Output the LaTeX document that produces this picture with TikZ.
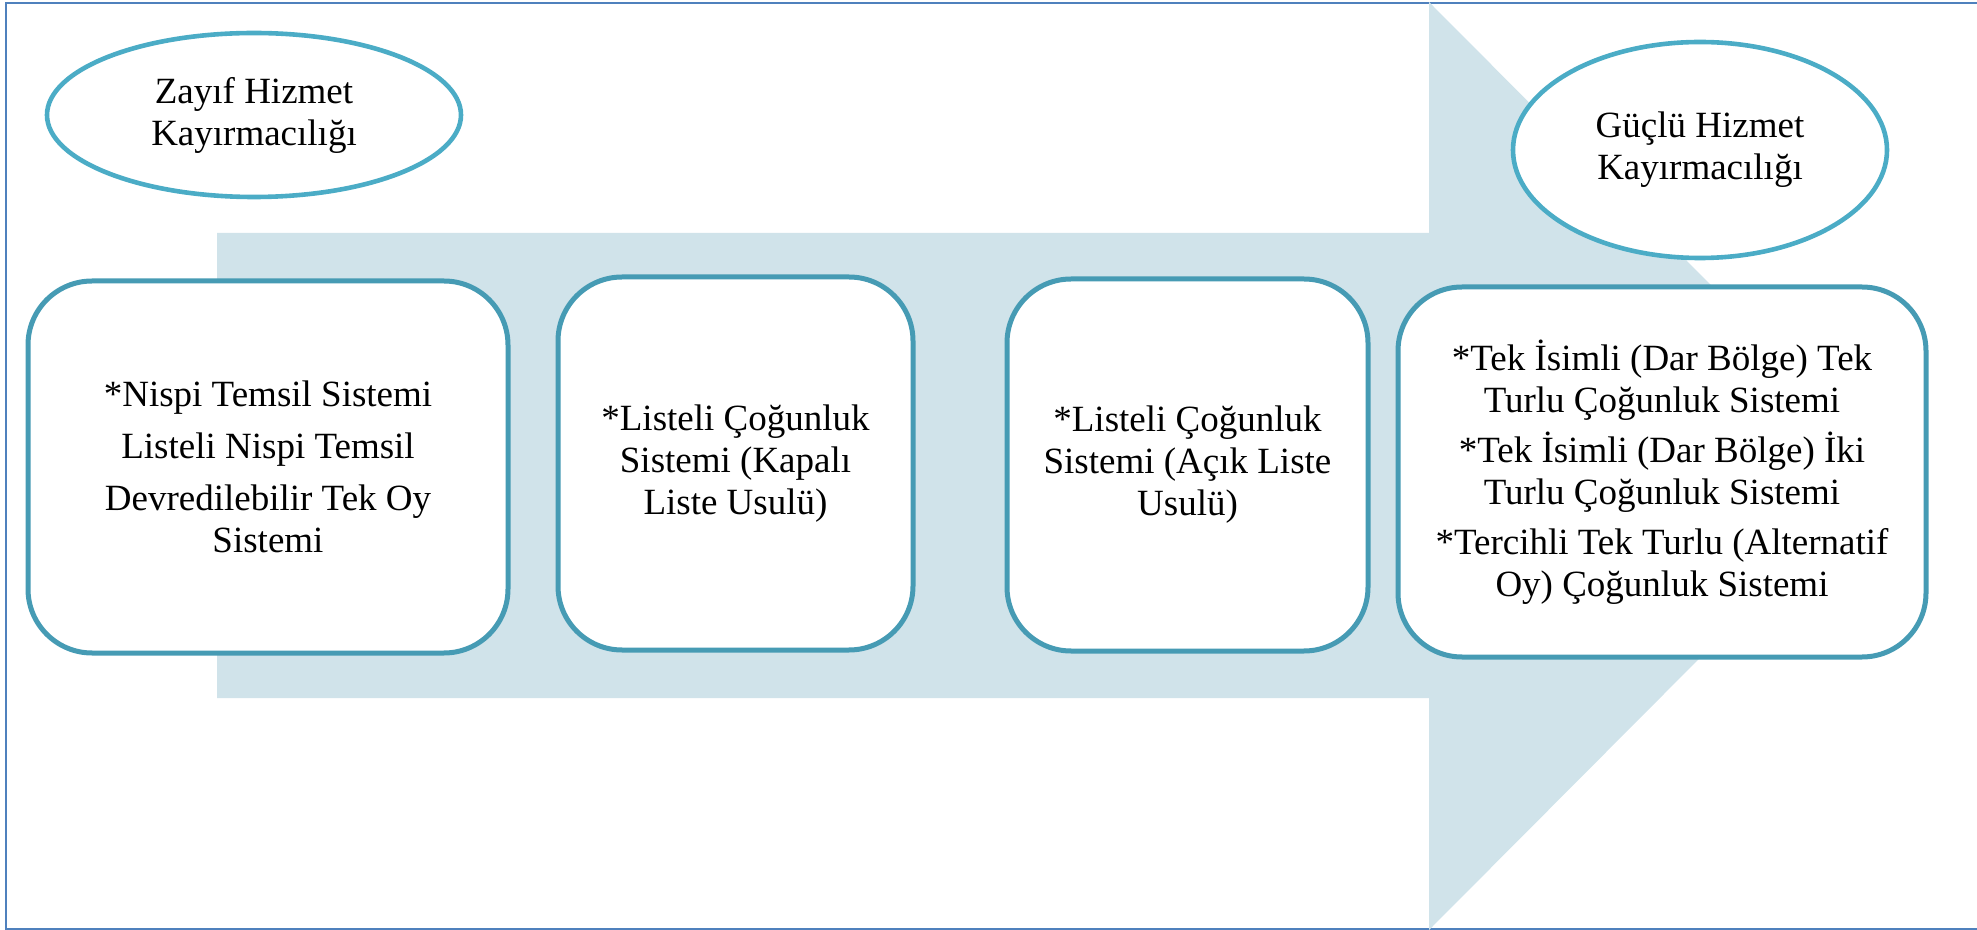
\documentclass[tikz,border=0pt]{standalone}
\usepackage{fontspec}
\setmainfont{Liberation Serif}
\usepackage{tikz}
\usetikzlibrary{shapes.geometric, positioning}
\definecolor{framecol}{RGB}{79,129,189}
\definecolor{ovalcol}{RGB}{75,172,198}
\definecolor{boxcol}{RGB}{70,155,180}
\definecolor{arrowfill}{RGB}{208,227,234}
\tikzstyle{oval}=[ellipse, draw=ovalcol, line width=2.3pt, fill=white, align=center, inner sep=0pt]
\tikzstyle{sysbox}=[rectangle, rounded corners=32pt, draw=boxcol, line width=2.5pt, fill=white, align=center, inner sep=0pt]

\begin{document}
\begin{tikzpicture}[x=0.5pt, y=-0.5pt, font=\fontsize{18.5}{21}\selectfont]
  \useasboundingbox (0,0) rectangle (1977,930);
  \clip (0,0) rectangle (1977,930);

  % Frame
  \draw[framecol, line width=1pt] (6,3) rectangle (1990,929);

  % Background arrow
  \fill[arrowfill] (217,233) -- (1429,233) -- (1429,2) -- (1891,466)
    -- (1429,930) -- (1429,698) -- (217,698) -- cycle;

  % Ends of the scale
  \node[oval, minimum width=207pt, minimum height=82pt] (zayif) at (254,115)
    {Zayıf Hizmet\\Kayırmacılığı};
  \node[oval, minimum width=187pt, minimum height=108pt] (guclu) at (1700,150)
    {Güçlü Hizmet\\Kayırmacılığı};

  % Electoral systems
  \node[sysbox, minimum width=240pt, minimum height=186pt] (nispi) at (268,467)
    {*Nispi Temsil Sistemi\\[5pt]Listeli Nispi Temsil\\[5pt]Devredilebilir Tek Oy\\Sistemi};
  \node[sysbox, minimum width=177.5pt, minimum height=186.5pt] (kapali) at (735.5,463.5)
    {*Listeli Çoğunluk\\Sistemi (Kapalı\\Liste Usulü)};
  \node[sysbox, minimum width=180.5pt, minimum height=186pt] (acik) at (1187.5,465)
    {*Listeli Çoğunluk\\Sistemi (Açık Liste\\Usulü)};
  \node[sysbox, minimum width=264pt, minimum height=185pt] (tekisim) at (1662,472)
    {*Tek İsimli (Dar Bölge) Tek\\Turlu Çoğunluk Sistemi\\[4pt]*Tek İsimli (Dar Bölge) İki\\Turlu Çoğunluk Sistemi\\[4pt]*Tercihli Tek Turlu (Alternatif\\Oy) Çoğunluk Sistemi};
\end{tikzpicture}
\end{document}
